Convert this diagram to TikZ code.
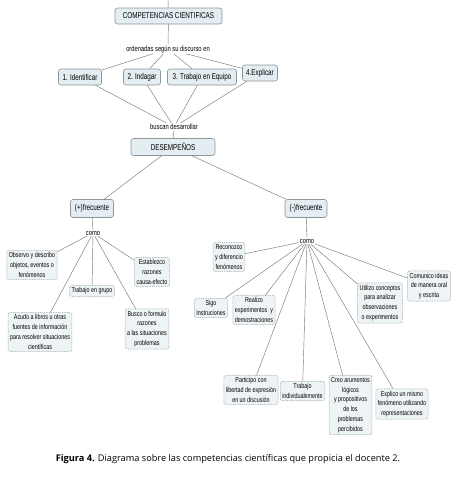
\documentclass[tikz,border=0pt]{standalone}
\usepackage{fontspec}
\setmainfont{Open Sans}
\newfontfamily\boxfont[FakeStretch=0.74]{Liberation Sans}
\newfontfamily\leaffont[FakeStretch=0.76]{Liberation Sans}
\definecolor{boxfill}{HTML}{E4EDF1}
\definecolor{boxdraw}{HTML}{8C969B}
\definecolor{leaffill}{HTML}{EEF3F5}
\definecolor{leafdraw}{HTML}{98A2A7}
\definecolor{linecol}{HTML}{7A7A7A}
\tikzset{
  mainbox/.style={draw=boxdraw, fill=boxfill, rounded corners=2.5pt, line width=0.6pt,
    font=\boxfont\fontsize{8.5}{10}\selectfont, inner sep=2pt, minimum height=16pt, align=center},
  leafbox/.style={draw=leafdraw, fill=leaffill, rounded corners=2pt, dash pattern=on 1pt off 0.8pt,
    line width=0.5pt, font=\leaffont\fontsize{7.1}{9.8}\selectfont, inner sep=2pt, align=center},
  linklabel/.style={font=\leaffont\fontsize{7.6}{8}\selectfont, inner sep=1pt, fill=white},
  conn/.style={draw=linecol, line width=0.45pt},
}
\begin{document}
\begin{tikzpicture}[x=1pt, y=-1pt]
\useasboundingbox (0,0) rectangle (456,477);
% top level
\coordinate (top) at (168,0);
\node[mainbox, minimum width=107pt] (comp) at (168.5,16) {COMPETENCIAS CIENTIFICAS};
\node[linklabel] (ord) at (168,49) {ordenadas según su discurso en};
\node[mainbox, minimum width=43pt] (id) at (80,77) {1. Identificar};
\node[mainbox, minimum width=37pt] (ind) at (142,77) {2. Indagar};
\node[mainbox, minimum width=69pt] (trab) at (202,77) {3. Trabajo en Equipo};
\node[mainbox, minimum width=35pt] (exp) at (260,73) {4.Explicar};
\node[linklabel] (busc) at (174,127) {buscan desarrollar};
\node[mainbox, minimum width=84pt, minimum height=17pt] (des) at (173,147) {DESEMPEÑOS};
\node[mainbox, minimum width=43pt, minimum height=18pt] (pf) at (92,208.5) {(+)frecuente};
\node[mainbox, minimum width=42pt, minimum height=18pt] (mf) at (306,208.5) {(-)frecuente};
\node[linklabel] (comoL) at (93,233) {como};
\node[linklabel] (comoR) at (307,241) {como};
% left leaves
\node[leafbox] (obs) at (32,265) {Observo y describo\\objetos, eventos o\\fenómenos};
\node[leafbox] (tg) at (92,291) {Trabajo en grupo};
\node[leafbox] (est) at (152,272) {Establezco\\razones\\causa-efecto};
\node[leafbox] (acu) at (40,332) {Acudo a libros u otras\\fuentes de información\\para resolver situaciones\\científicas};
\node[leafbox] (bus) at (147,329) {Busco o formulo\\razones\\a las situaciones\\problemas};
% right leaves
\node[leafbox] (rec) at (229,257) {Reconozco\\y diferencio\\fenómenos};
\node[leafbox] (sigo) at (211,308) {Sigo\\Instruciones};
\node[leafbox] (real) at (254,310) {Realizo\\experimentos~ y\\demostraciones};
\node[leafbox] (util) at (380,303) {Utilizo conceptos\\para analizar\\observaciones\\o experimentos};
\node[leafbox] (com) at (429,286) {Comunico ideas\\de manera oral\\y escrita};
\node[leafbox] (part) at (251,390) {Participo con\\libertad de expresión\\en un discusión};
\node[leafbox] (tind) at (302.5,391) {Trabajo\\individualemente};
\node[leafbox] (creo) at (350.5,405) {Creo arumentos\\lógicos\\y propositivos\\de los\\problemas\\percibidos};
\node[leafbox] (expl) at (402,404) {Explico un mismo\\fenómeno utilizando\\representaciones};
% caption
\node[font=\fontsize{9.2}{11}\selectfont, inner sep=0pt] (cap) at (228,459)
  {\textbf{Figura 4.} Diagrama sobre las competencias científicas que propicia el docente 2.};
% connectors
\draw[conn] (top) -- (comp);
\draw[conn] (comp) -- (ord);
\foreach \b in {id,ind,trab,exp} {
  \draw[conn] (ord) -- (\b);
  \draw[conn] (\b) -- (busc);
}
\draw[conn] (busc) -- (des);
\draw[conn] (des) -- (pf);
\draw[conn] (des) -- (mf);
\draw[conn] (pf) -- (comoL);
\draw[conn] (mf) -- (comoR);
\foreach \b in {obs,tg,est,acu,bus} \draw[conn] (comoL) -- (\b);
\foreach \b in {rec,sigo,real,util,com,part,tind,creo,expl} \draw[conn] (comoR) -- (\b);
\end{tikzpicture}
\end{document}
